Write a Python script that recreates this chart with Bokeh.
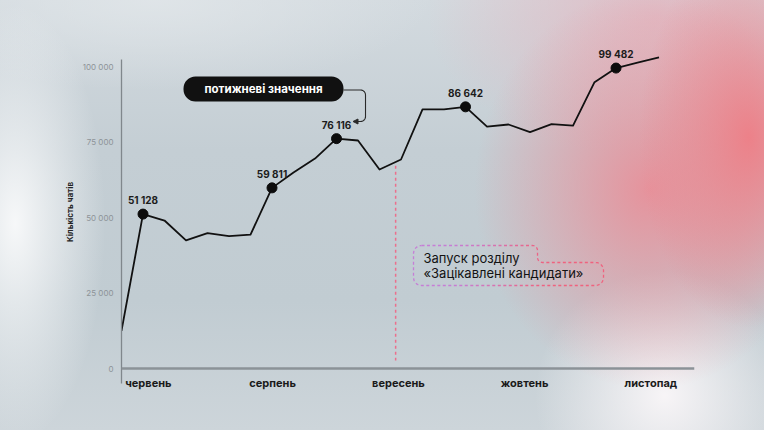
import math
from bokeh.plotting import figure
from bokeh.models import (Range1d, FixedTicker, BoxAnnotation, Label, Span, Arrow,
                          NormalHead, InlineStyleSheet, ColumnDataSource)
from bokeh.core.properties import value
from bokeh.embed import file_html
from bokeh.resources import INLINE

# ---------------- data ----------------
weeks = list(range(26))
chats = [12500, 51128, 49000, 42400, 44800, 43800, 44300, 59811, 64900,
         69500, 76116, 75500, 65900, 69200, 85800, 85800, 86642, 80100,
         80800, 78300, 80900, 80400, 94800, 99482, 101300, 103000]
highlight_idx = [1, 7, 10, 16, 23]
month_labels = ["червень", "серпень", "вересень", "жовтень", "листопад"]
month_ticks = [1.25, 7.03, 12.88, 18.75, 24.62]
y_ticks = [0, 25000, 50000, 75000, 100000]
launch_week = 12.75
y_label = "Кількість чатів"
pill_text = "потижневі значення"
note_lines = ["Запуск розділу", "«Зацікавлені кандидати»"]

FONT = "Inter"

# page-pixel helpers for annotation placement (page px -> data)
def dx(px):
    return (px - 121) / 21.5

def dy(py):
    return (368 - py) / 3.02 * 1000

css = """
:host {
  background:
    radial-gradient(ellipse 110px 190px at 98% 32%, rgba(238,126,134,0.95) 0%, rgba(238,126,134,0) 100%),
    radial-gradient(ellipse 175px 200px at 85% 44%, rgba(236,136,146,0.85) 0%, rgba(236,136,146,0) 100%),
    radial-gradient(ellipse 230px 140px at 86% 4%, rgba(228,180,190,0.8) 0%, rgba(228,180,190,0) 100%),
    radial-gradient(ellipse 130px 125px at 87% 92%, rgba(248,245,247,0.98) 0%, rgba(248,245,247,0) 100%),
    radial-gradient(ellipse 90px 220px at 2% 52%, rgba(248,249,250,0.97) 0%, rgba(248,249,250,0) 100%),
    radial-gradient(ellipse 280px 90px at 20% 0%, rgba(226,231,234,0.8) 0%, rgba(226,231,234,0) 100%),
    linear-gradient(to bottom, #d3dadf 0%, #c4ced4 35%, #c1ccd2 70%, #cdd5da 100%);
}
"""

p = figure(width=764, height=430,
           x_range=Range1d(0, 26.65), y_range=Range1d(dy(383), dy(40)),
           output_backend="svg", toolbar_location=None,
           min_border_left=121, min_border_right=70,
           min_border_top=40, min_border_bottom=47)
p.stylesheets = [InlineStyleSheet(css=css)]
p.background_fill_color = None
p.border_fill_color = None
p.outline_line_color = None
p.xgrid.visible = False
p.ygrid.visible = False

# y axis
ya = p.yaxis[0]
ya.ticker = FixedTicker(ticks=y_ticks)
ya.major_label_overrides = {t: f"{t:,}".replace(",", " ") for t in y_ticks}
ya.bounds = (dy(383), dy(59))
ya.axis_line_color = "#80878c"
ya.axis_line_width = 1.3
ya.major_tick_line_color = None
ya.major_tick_in = 0
ya.major_tick_out = 0
ya.minor_tick_line_color = None
ya.minor_tick_in = 0
ya.minor_tick_out = 0
ya.major_label_text_font = FONT
ya.major_label_text_font_size = "8px"
ya.major_label_text_color = "#8d9398"
ya.major_label_standoff = 8
ya.axis_label = y_label
ya.axis_label_text_font = FONT
ya.axis_label_text_font_size = "8px"
ya.axis_label_text_font_style = "bold"
ya.axis_label_text_color = "#222222"
ya.axis_label_standoff = 5

# x axis (labels only; the zero line is drawn as a span)
xa = p.xaxis[0]
xa.ticker = FixedTicker(ticks=month_ticks)
xa.major_label_overrides = {t: m for t, m in zip(month_ticks, month_labels)}
xa.axis_line_color = None
xa.major_tick_line_color = None
xa.major_tick_in = 0
xa.major_tick_out = 0
xa.minor_tick_line_color = None
xa.minor_tick_in = 0
xa.minor_tick_out = 0
xa.major_label_text_font = FONT
xa.major_label_text_font_size = "11px"
xa.major_label_text_font_style = "bold"
xa.major_label_text_color = "#1a1a1a"
xa.major_label_standoff = -8

p.add_layout(Span(location=0, dimension="width", line_color="#8b9297", line_width=2.5))

# launch marker (dashed vertical)
i0 = int(launch_week)
frac = launch_week - i0
y_at_launch = chats[i0] + (chats[i0 + 1] - chats[i0]) * frac
p.segment(x0=[launch_week], y0=[y_at_launch - 1200], x1=[launch_week], y1=[dy(360)],
          line_color="#ec6f8c", line_width=1.5, line_dash="3 3")

# main line
p.line(weeks, chats, line_color="#111111", line_width=1.8, line_join="round")

hx = [weeks[i] for i in highlight_idx]
hy = [chats[i] for i in highlight_idx]
hl = [f"{v:,}".replace(",", " ") for v in hy]
src = ColumnDataSource(dict(x=hx, y=hy, t=hl))
p.scatter("x", "y", source=src, size=10, color="#0c0c0c")
p.text("x", "y", text="t", source=src, y_offset=-14, text_align="center",
       text_baseline="middle", text_font=value(FONT), text_font_style="bold",
       text_font_size="10px", text_color="#1c1c1c")

# pill annotation
p.add_layout(BoxAnnotation(left=dx(183), right=dx(343), top=dy(76), bottom=dy(101),
                           fill_color="#111111", fill_alpha=1, line_color=None,
                           border_radius=12))
p.add_layout(Label(x=dx(263), y=dy(88.5), text=pill_text, text_align="center",
                   text_baseline="middle", text_color="white", text_font=FONT,
                   text_font_size="11.5px", text_font_style="bold"))

def arc(cx, cy, r, a0, a1, n=8):
    pts = []
    for i in range(n + 1):
        a = math.radians(a0 + (a1 - a0) * i / n)
        pts.append((cx + r * math.cos(a), cy + r * math.sin(a)))
    return pts

# connector with arrow
conn = [(343, 89.5)] + arc(360, 94.5, 5, -90, 0) + arc(360, 116, 5, 0, 90) + [(357, 121)]
p.line([dx(a) for a, b in conn], [dy(b) for a, b in conn], line_color="#2a2a2a",
       line_width=1.1)
p.add_layout(Arrow(end=NormalHead(size=5, fill_color="#2a2a2a", line_color="#2a2a2a"),
                   x_start=dx(358), y_start=dy(121), x_end=dx(352.5), y_end=dy(121),
                   line_color="#2a2a2a", line_width=1.1))

# note box (dashed, gradient outline)
R = 8
r = 5
path = ([(413 + R, 245), (537 - r, 245)] + arc(537 - r, 245 + r, r, -90, 0)
        + arc(537 + r, 262 - r, r, 180, 90) + [(603 - R, 262)]
        + arc(603 - R, 262 + R, R, -90, 0) + arc(603 - R, 285 - R, R, 0, 90)
        + arc(413 + R, 285 - R, R, 90, 180) + arc(413 + R, 245 + R, R, 180, 270))
seg_len = [math.hypot(c - a, d - b) for (a, b), (c, d) in zip(path[:-1], path[1:])]
total = sum(seg_len)

def point_at(s):
    acc = 0
    for (a, b), (c, d), L in zip(path[:-1], path[1:], seg_len):
        if acc + L >= s and L > 0:
            t = (s - acc) / L
            return (a + (c - a) * t, b + (d - b) * t)
        acc += L
    return path[-1]

c1 = (198, 126, 214)
c2 = (240, 98, 126)
xs, ys, cols = [], [], []
s = 0.0
while s < total:
    pts = [point_at(min(s + k * 0.75, total)) for k in range(5)]
    mx = sum(q[0] for q in pts) / len(pts)
    t = (mx - 440) / (560 - 440)
    t = max(0.0, min(1.0, t))
    t = t * t * (3 - 2 * t)
    col = "#%02x%02x%02x" % tuple(int(c1[i] + (c2[i] - c1[i]) * t) for i in range(3))
    xs.append([dx(q[0]) for q in pts])
    ys.append([dy(q[1]) for q in pts])
    cols.append(col)
    s += 5.5
p.multi_line(xs, ys, line_color=cols, line_width=1.3)

p.text([dx(423), dx(423)], [dy(257), dy(272)], text=note_lines, text_align="left",
       text_baseline="middle", text_font=value(FONT), text_font_size="13px",
       text_color="#131313")

open("out.html", "w").write(file_html(p, INLINE))
